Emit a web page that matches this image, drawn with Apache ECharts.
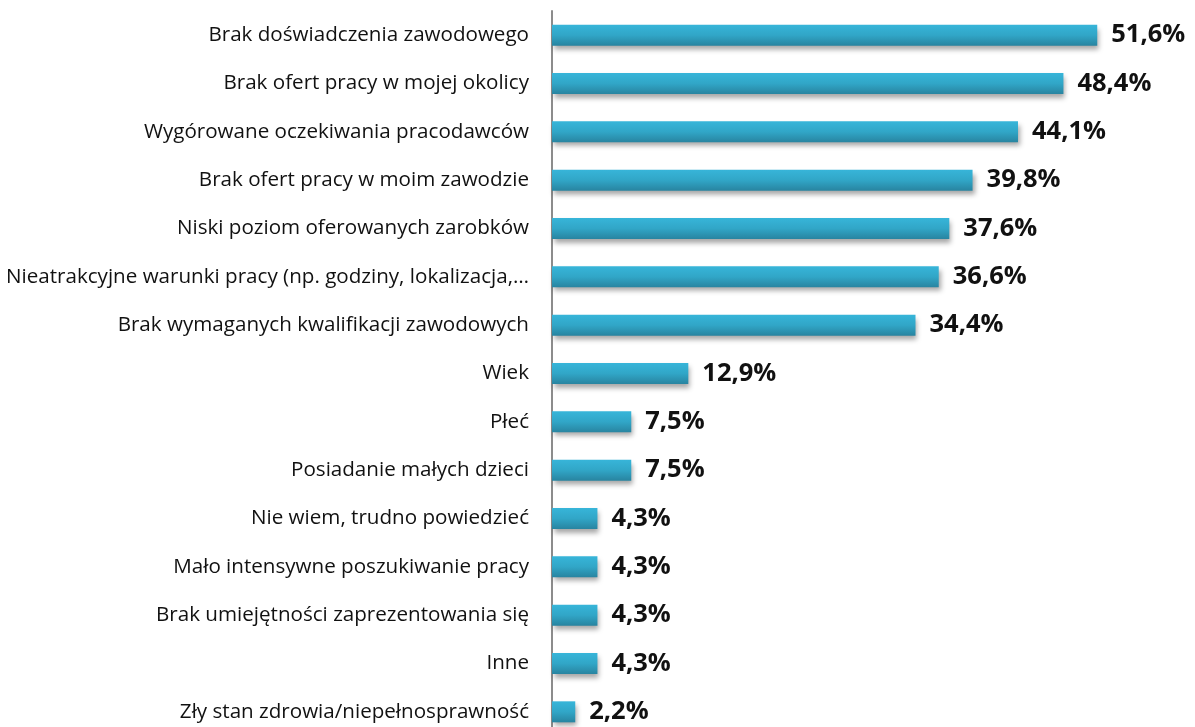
<!DOCTYPE html>
<html>
<head>
<meta charset="utf-8">
<script src="https://cdn.jsdelivr.net/npm/echarts@6/dist/echarts.min.js"></script>
<style>
  html, body { margin: 0; padding: 0; background: #fff; }
  #chart { width: 1195px; height: 727px; }
</style>
</head>
<body>
<div id="chart"></div>
<script>
// Reasons for difficulty finding a job (share of respondents, %)
const categories = [
  'Brak doświadczenia zawodowego',
  'Brak ofert pracy w mojej okolicy',
  'Wygórowane oczekiwania pracodawców',
  'Brak ofert pracy w moim zawodzie',
  'Niski poziom oferowanych zarobków',
  'Nieatrakcyjne warunki pracy (np. godziny, lokalizacja,…',
  'Brak wymaganych kwalifikacji zawodowych',
  'Wiek',
  'Płeć',
  'Posiadanie małych dzieci',
  'Nie wiem, trudno powiedzieć',
  'Mało intensywne poszukiwanie pracy',
  'Brak umiejętności zaprezentowania się',
  'Inne',
  'Zły stan zdrowia/niepełnosprawność'
];
const values = [51.6, 48.4, 44.1, 39.8, 37.6, 36.6, 34.4, 12.9, 7.5, 7.5, 4.3, 4.3, 4.3, 4.3, 2.2];

const chart = echarts.init(document.getElementById('chart'), null, { renderer: 'canvas' });

chart.setOption({
  animation: false,
  grid: {
    left: 552, right: 9, top: 11, bottom: -9,
    containLabel: false,
    outerBoundsMode: 'none'
  },
  xAxis: {
    type: 'value',
    min: 0,
    max: 60,
    show: false
  },
  yAxis: {
    type: 'category',
    inverse: true,
    data: categories,
    axisLine: { show: true, lineStyle: { color: '#8c8c8c', width: 2 } },
    axisTick: { show: false },
    axisLabel: {
      fontFamily: '"Open Sans", "Noto Sans", sans-serif',
      fontSize: 20.6,
      color: '#111',
      margin: 23
    }
  },
  series: [{
    type: 'bar',
    data: values,
    barWidth: 21,
    itemStyle: {
      color: new echarts.graphic.LinearGradient(0, 0, 0, 1, [
        { offset: 0, color: '#37b5d9' },
        { offset: 0.5, color: '#31a6c7' },
        { offset: 1, color: '#2884a0' }
      ]),
      shadowColor: 'rgba(0,0,0,0.35)',
      shadowBlur: 5,
      shadowOffsetX: 2,
      shadowOffsetY: 4
    },
    label: {
      show: true,
      position: 'right',
      distance: 14,
      formatter: p => p.value.toFixed(1).replace('.', ',') + '%',
      fontFamily: '"Open Sans", "Noto Sans", sans-serif',
      fontWeight: 'bold',
      fontSize: 25.5,
      color: '#111'
    }
  }]
});
</script>
</body>
</html>
